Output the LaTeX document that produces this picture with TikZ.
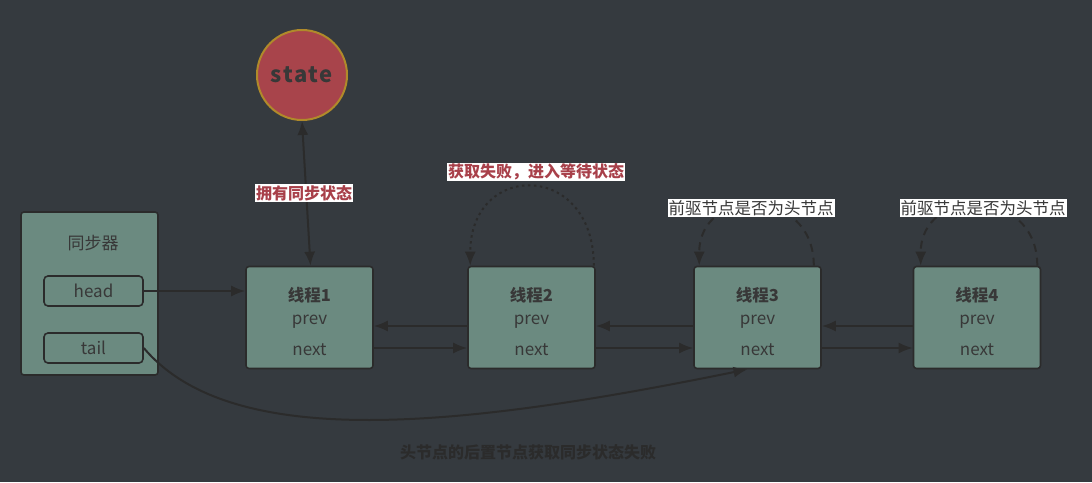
\documentclass[tikz,border=0pt]{standalone}
\usepackage{fontspec}
\setmainfont{Noto Sans CJK SC}
\usetikzlibrary{arrows.meta,positioning,calc}
\definecolor{bgdark}{HTML}{353A3F}
\definecolor{boxgreen}{HTML}{6B8A80}
\definecolor{edgedark}{HTML}{2B2B2B}
\definecolor{txtdark}{HTML}{383838}
\definecolor{statered}{HTML}{A8444B}
\definecolor{stategold}{HTML}{B08A2A}
\definecolor{lblred}{HTML}{A8404A}

\begin{document}
\begin{tikzpicture}[
    x=1pt, y=-1pt,
    every node/.style={font=\fontsize{17}{20}\selectfont, text=txtdark},
    thread/.style={draw=edgedark, line width=1.6pt, rounded corners=3pt, fill=boxgreen,
                   minimum width=127pt, minimum height=102pt},
    syncbox/.style={draw=edgedark, line width=1.6pt, rounded corners=3pt, fill=boxgreen,
                    minimum width=137pt, minimum height=163pt},
    field/.style={draw=edgedark, line width=1.6pt, rounded corners=4pt,
                  minimum width=99pt, minimum height=30pt, inner sep=0pt},
    lbl/.style={fill=white, inner sep=1pt, font=\fontsize{16}{18}\selectfont\bfseries, text=lblred},
    note/.style={fill=white, inner sep=1pt, font=\fontsize{16.5}{18}\selectfont, text=txtdark},
    arr/.style={-{Latex[length=14pt,width=11pt]}, line width=2pt, edgedark},
    loopdot/.style={arr, dash pattern=on 2.5pt off 3.5pt},
    loopdash/.style={arr, dash pattern=on 8pt off 6pt}
  ]
  \fill[bgdark] (0,0) rectangle (1092,482);
  \useasboundingbox (0,0) rectangle (1092,482);

  % synchroniser
  \node[syncbox] (sync) at (89.5,293.5) {};
  \node (synctxt) at (93,243) {同步器};
  \node[field] (head) at (93.5,291) {head};
  \node[field] (tail) at (93.5,348) {tail};

  % threads
  \foreach \i/\x in {1/309.5, 2/531.5, 3/757.5, 4/977} {
    \node[thread] (t\i) at (\x,317.5) {};
    \node[font=\fontsize{16.5}{18}\selectfont\bfseries] (t\i-name) at ([yshift=22.5]t\i.center) {线程\i};
    \node (t\i-prev) at ([yshift=-4.5]t\i.center) {prev};
    \node (t\i-next) at ([yshift=-32]t\i.center) {next};
  }

  % state
  \node[circle, draw=stategold, line width=2pt, fill=statered, minimum size=90pt,
        font=\fontsize{22}{24}\selectfont\bfseries] (state) at (302,75)
        {s\kern1.2pt t\kern1.2pt a\kern1.2pt t\kern1.2pt e};
  \draw[arr, {Latex[length=14pt,width=11pt]}-{Latex[length=14pt,width=11pt]}]
    (state.south) -- ([xshift=1]t1.north);
  \node[lbl] (own) at (304,193) {拥有同步状态};

  % links
  \draw[arr] (head.east) -- (head.east -| t1.west);
  \foreach \a/\b in {1/2, 2/3, 3/4} {
    \draw[arr] ([yshift=-8.5]t\b.west) -- ([yshift=-8.5]t\a.east);
    \draw[arr] ([yshift=-30.5]t\a.east) -- ([yshift=-30.5]t\b.west);
  }
  \draw[arr] (tail.east) .. controls (230,450) and (450,430) .. ([xshift=-10]t3.south);

  % spinning
  \draw[loopdot] ([xshift=-2]t2.north east) .. controls +(0,-105) and +(0,-105) .. ([xshift=3]t2.north west);
  \node[lbl] (fail) at (536,172) {获取失败，进入等待状态};
  \draw[loopdash] ([xshift=-8]t3.north east) .. controls +(0,-80) and +(0,-80) .. ([xshift=6]t3.north west);
  \node[note] (ask3) at (751,208) {前驱节点是否为头节点};
  \draw[loopdash] ([xshift=-4]t4.north east) .. controls +(0,-80) and +(0,-80) .. ([xshift=8]t4.north west);
  \node[note] (ask4) at (983,208) {前驱节点是否为头节点};

  \node[font=\fontsize{16}{18}\selectfont\bfseries, text=edgedark] (caption) at (528,452)
    {头节点的后置节点获取同步状态失败};
\end{tikzpicture}
\end{document}
